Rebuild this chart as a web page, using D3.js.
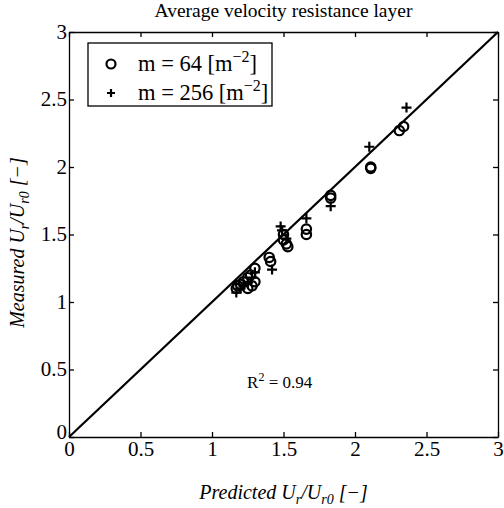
<!DOCTYPE html>
<html>
<head>
<meta charset="utf-8">
<script src="https://cdn.jsdelivr.net/npm/d3@7"></script>
<style>
  body { margin: 0; background: #fff; }
  svg text { font-family: "Liberation Serif", "Times New Roman", Times, serif; }
  .axis path, .axis line { stroke: #000; stroke-width: 1.3; }
  .axis text { font-size: 21px; fill: #000; }
</style>
</head>
<body>
<div id="chart"></div>
<script>
const predicted64 = [1.17, 1.18, 1.20, 1.22, 1.25, 1.27, 1.28, 1.30, 1.30, 1.25, 1.40, 1.41, 1.50, 1.50, 1.52, 1.53, 1.66, 1.66, 1.83, 1.83, 2.11, 2.11, 2.31, 2.34];
const measured64 = [1.10, 1.12, 1.13, 1.15, 1.18, 1.20, 1.12, 1.15, 1.25, 1.10, 1.33, 1.30, 1.50, 1.46, 1.43, 1.41, 1.54, 1.50, 1.79, 1.77, 2.00, 1.99, 2.27, 2.30];
const predicted256 = [1.17, 1.20, 1.22, 1.25, 1.28, 1.30, 1.42, 1.48, 1.49, 1.52, 1.66, 1.83, 2.10, 2.36];
const measured256 = [1.07, 1.10, 1.12, 1.14, 1.18, 1.22, 1.24, 1.56, 1.53, 1.47, 1.62, 1.71, 2.15, 2.44];
const ticks = [0, 0.5, 1, 1.5, 2, 2.5, 3];
const fitLine = [0, 3];

const margin = { top: 32, right: 6, bottom: 71, left: 69 };
const width = 504, height = 508;
const w = width - margin.left - margin.right;
const h = height - margin.top - margin.bottom;

const svg = d3.select("#chart").append("svg")
  .attr("width", width).attr("height", height);
const g = svg.append("g")
  .attr("transform", `translate(${margin.left},${margin.top})`);

const x = d3.scaleLinear().domain([0, 3]).range([0, w]);
const y = d3.scaleLinear().domain([0, 3]).range([h, 0]);

const fmt = (d) => d3.format("")(d);

// axes with inward ticks, box style
const xAxis = g.append("g").attr("class", "axis")
  .attr("transform", `translate(0,${h})`)
  .call(d3.axisBottom(x).tickValues(ticks).tickFormat(fmt).tickSizeInner(-5).tickSizeOuter(0).tickPadding(6));
g.append("g").attr("class", "axis")
  .call(d3.axisTop(x).tickValues(ticks).tickFormat("").tickSizeInner(-5).tickSizeOuter(0));
const yAxis = g.append("g").attr("class", "axis")
  .call(d3.axisLeft(y).tickValues(ticks).tickFormat(fmt).tickSizeInner(-5).tickSizeOuter(0).tickPadding(2));
g.append("g").attr("class", "axis")
  .attr("transform", `translate(${w},0)`)
  .call(d3.axisRight(y).tickValues(ticks).tickFormat("").tickSizeInner(-5).tickSizeOuter(0));
g.selectAll(".axis").attr("font-family", null).attr("font-size", null);
xAxis.selectAll("text").attr("y", 4).attr("dy", "0.71em");
yAxis.selectAll("text").attr("x", -2).attr("dy", (d) => (d === 0 ? "0.05em" : "0.3em"));

// 1:1 line
g.append("line")
  .attr("x1", x(fitLine[0])).attr("y1", y(fitLine[0]))
  .attr("x2", x(fitLine[1])).attr("y2", y(fitLine[1]))
  .attr("stroke", "#000").attr("stroke-width", 2.2);

// circles m = 64
g.append("g").selectAll("circle")
  .data(d3.zip(predicted64, measured64))
  .enter().append("circle")
  .attr("cx", (d) => x(d[0])).attr("cy", (d) => y(d[1]))
  .attr("r", 4.7)
  .attr("fill", "none").attr("stroke", "#000").attr("stroke-width", 2.2);

// plus m = 256
const plus = (s) => `M${-s},0H${s}M0,${-s}V${s}`;
g.append("g").selectAll("path")
  .data(d3.zip(predicted256, measured256))
  .enter().append("path")
  .attr("transform", (d) => `translate(${x(d[0])},${y(d[1])})`)
  .attr("d", plus(5))
  .attr("stroke", "#000").attr("stroke-width", 2.2);

// legend
const legend = g.append("g").attr("transform", "translate(19,11)");
legend.append("rect")
  .attr("width", 184).attr("height", 63)
  .attr("fill", "#fff").attr("stroke", "#000").attr("stroke-width", 1.3);
legend.append("circle").attr("cx", 23).attr("cy", 21).attr("r", 4.5)
  .attr("fill", "none").attr("stroke", "#000").attr("stroke-width", 2.2);
legend.append("path").attr("transform", "translate(23,50)").attr("d", plus(4))
  .attr("stroke", "#000").attr("stroke-width", 2.2);
const legendText = (ty, num) => {
  const t = legend.append("text").attr("x", 50).attr("y", ty)
    .attr("font-size", 22.5);
  t.append("tspan").text(`m = ${num} [m`);
  t.append("tspan").attr("dy", -9).attr("font-size", 16).text("\u22122");
  t.append("tspan").attr("dy", 9).text("]");
};
legendText(28, 64);
legendText(57, 256);

// R^2
const r2 = g.append("text").attr("x", x(1.245)).attr("y", y(0.36))
  .attr("font-size", 17);
r2.append("tspan").text("R");
r2.append("tspan").attr("dy", -7).attr("font-size", 12).text("2");
r2.append("tspan").attr("dy", 7).text(" = 0.94");

// title
svg.append("text")
  .attr("x", margin.left + w / 2).attr("y", 17)
  .attr("text-anchor", "middle").attr("font-size", 19.5)
  .text("Average velocity resistance layer");

// x label
const xl = svg.append("text")
  .attr("x", margin.left + w / 2).attr("y", height - 9)
  .attr("text-anchor", "middle").attr("font-size", 20)
  .attr("font-style", "italic");
xl.append("tspan").text("Predicted U");
xl.append("tspan").attr("dy", 5).attr("font-size", 14).text("r");
xl.append("tspan").attr("dy", -5).text("/U");
xl.append("tspan").attr("dy", 5).attr("font-size", 14).text("r0");
xl.append("tspan").attr("dy", -5).text(" [\u2212]");

// y label
const yl = svg.append("text")
  .attr("transform", `translate(24,${margin.top + h / 2 + 8}) rotate(-90)`)
  .attr("text-anchor", "middle").attr("font-size", 20)
  .attr("font-style", "italic");
yl.append("tspan").text("Measured U");
yl.append("tspan").attr("dy", 5).attr("font-size", 14).text("r");
yl.append("tspan").attr("dy", -5).text("/U");
yl.append("tspan").attr("dy", 5).attr("font-size", 14).text("r0");
yl.append("tspan").attr("dy", -5).text(" [\u2212]");
</script>
</body>
</html>
